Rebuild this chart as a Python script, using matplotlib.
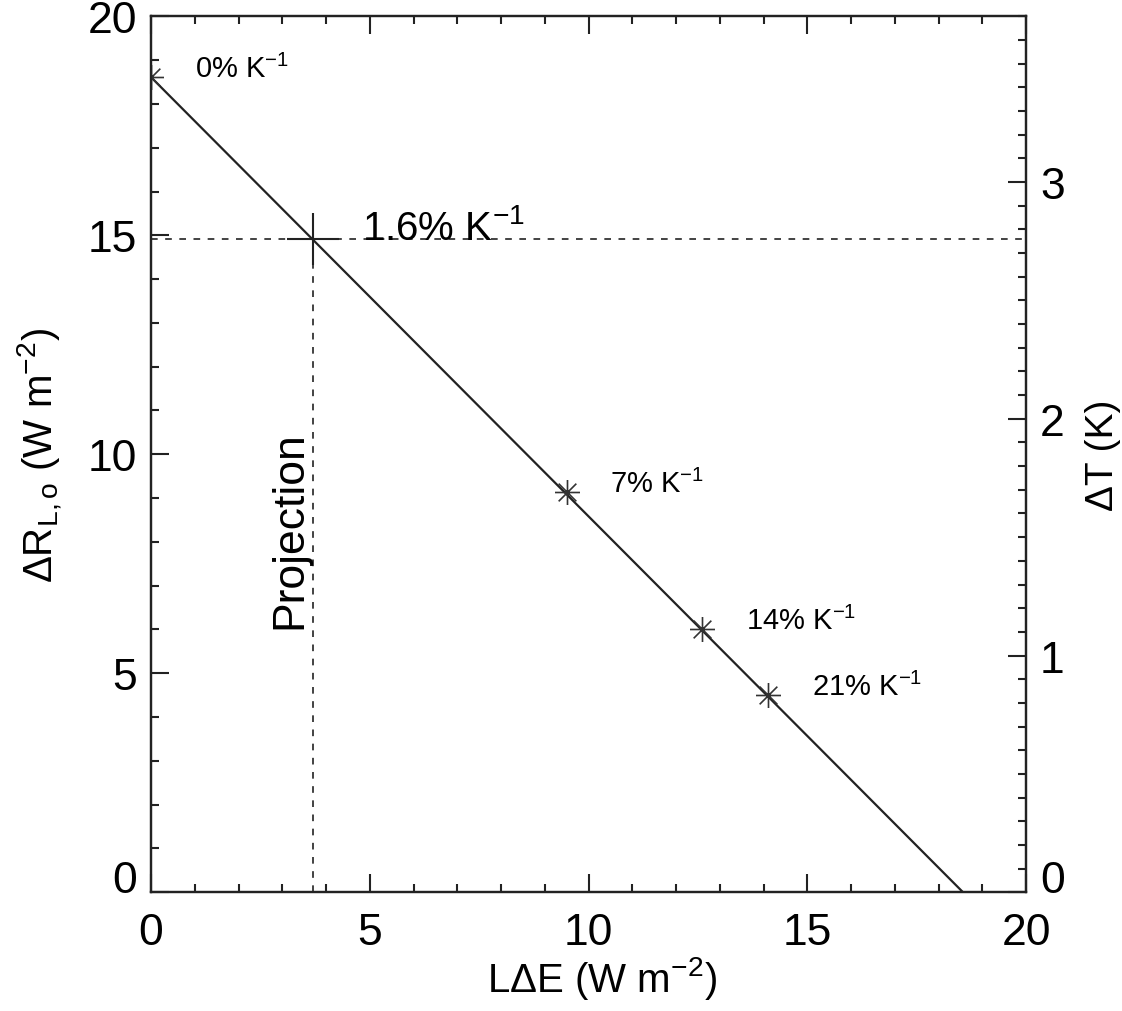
import numpy as np
import matplotlib
matplotlib.use('Agg')
import matplotlib.pyplot as plt
from matplotlib.path import Path
from matplotlib.ticker import MultipleLocator

plt.rcParams['font.family'] = ['Liberation Sans', 'DejaVu Sans']
plt.rcParams['mathtext.fontset'] = 'custom'
plt.rcParams['mathtext.rm'] = 'Liberation Sans'
plt.rcParams['mathtext.it'] = 'Liberation Sans:italic'
plt.rcParams['mathtext.default'] = 'regular'

# line LdE vs dR
line_x = [0.0, 18.56]
line_y = [18.61, 0.0]

# marked points (% K-1 scenarios)
pt_x = [0.0, 9.50, 12.59, 14.11]
pt_y = [18.61, 9.13, 6.01, 4.50]
pt_labels = ['0% K$^{-1}$', '7% K$^{-1}$', '14% K$^{-1}$', '21% K$^{-1}$']

# projection point
proj_x = 3.70
proj_y = 14.92
proj_label = '1.6% K$^{-1}$'

# axis ranges
x_max = 20
y_max = 20
dT_max = 3.70

col = '#222222'

# asterisk marker like the IDL one
d = 0.707
star = Path([(-1, 0), (1, 0), (0, -1), (0, 1), (-d, -d), (d, d), (-d, d), (d, -d)],
            [Path.MOVETO, Path.LINETO] * 4)

fig = plt.figure(figsize=(11.22, 10.12), dpi=100)
ax = fig.add_axes([0.1346, 0.1173, 0.7799, 0.8656])

ax.plot(line_x, line_y, color=col, lw=1.6)
ax.plot(pt_x, pt_y, ls='none', marker=star, ms=18, mew=1.2, color='#333333')
for x, y, s in zip(pt_x, pt_y, pt_labels):
    ax.text(x + 1.0, y, s, fontsize=21, ha='left', va='baseline')

# projection lines
ax.axhline(proj_y, color=col, lw=1.2, ls=(0, (4, 4.5)))
ax.plot([proj_x, proj_x], [0, proj_y], color=col, lw=1.2, ls=(0, (4, 4.5)))
ax.plot([proj_x], [proj_y], ls='none', marker='+', ms=37, mew=1.5, color=col)
ax.text(proj_x + 1.12, proj_y, proj_label, fontsize=29, ha='left', va='baseline')
ax.text(proj_x - 0.52, 8.3, 'Projection', fontsize=32, rotation=90,
        ha='center', va='center')

ax.set_xlim(0, x_max)
ax.set_ylim(0, y_max)
ax.xaxis.set_major_locator(MultipleLocator(5))
ax.xaxis.set_minor_locator(MultipleLocator(1))
ax.yaxis.set_major_locator(MultipleLocator(5))
ax.yaxis.set_minor_locator(MultipleLocator(1))
ax.tick_params(which='both', direction='in', top=True, right=False, width=1.5, color=col)
ax.tick_params(which='major', length=13, labelsize=32)
ax.tick_params(which='minor', length=6)
ax.tick_params(axis='x', pad=14)
ax.tick_params(axis='y', pad=10)
for sp in ax.spines.values():
    sp.set_linewidth(1.6)
    sp.set_color(col)

ax.set_xlabel('L\u0394E (W m$^{-2}$)', fontsize=29)
ax.set_ylabel('\u0394R$_{L,o}$ (W m$^{-2}$)', fontsize=29)
ax.xaxis.set_label_coords(0.515, -0.07)
ax.yaxis.set_label_coords(-0.098, 0.5)

ax2 = ax.twinx()
ax2.set_ylim(0, dT_max)
ax2.yaxis.set_major_locator(MultipleLocator(1))
ax2.yaxis.set_minor_locator(MultipleLocator(0.1))
ax2.tick_params(which='both', direction='in', width=1.5, color=col)
ax2.tick_params(which='major', length=13, labelsize=32, pad=10)
ax2.tick_params(which='minor', length=6)
ax2.set_ylabel('\u0394T (K)', fontsize=28)
ax2.yaxis.set_label_coords(1.067, 0.5)
for sp in ax2.spines.values():
    sp.set_linewidth(1.6)
    sp.set_color(col)

# bottom "0" labels sit on the x axis like the original
fig.canvas.draw()
for lab in ax.get_yticklabels() + ax2.get_yticklabels():
    if lab.get_text() == '0':
        lab.set_va('baseline')

fig.savefig('out.png', dpi=100)
